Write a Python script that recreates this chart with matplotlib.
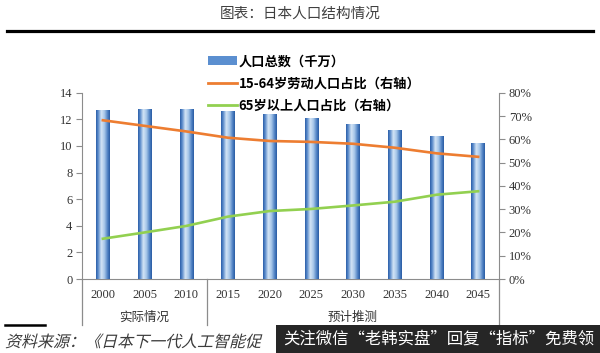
import matplotlib
matplotlib.use('Agg')
import matplotlib.pyplot as plt
import numpy as np
from matplotlib.lines import Line2D
from matplotlib.patches import Patch, Rectangle, PathPatch
from matplotlib.textpath import TextPath
from matplotlib.font_manager import FontProperties
from matplotlib.transforms import Affine2D, blended_transform_factory
from matplotlib.colors import LinearSegmentedColormap

# ---- data ----
years = ['2000', '2005', '2010', '2015', '2020', '2025', '2030', '2035', '2040', '2045']
population = [12.69, 12.78, 12.81, 12.66, 12.41, 12.07, 11.66, 11.21, 10.73, 10.22]
working_share = [68.2, 65.8, 63.4, 60.7, 59.3, 58.9, 58.1, 56.4, 54.0, 52.5]
elderly_share = [17.3, 20.0, 22.8, 26.8, 29.2, 30.1, 31.6, 33.2, 36.2, 37.7]
group_labels = ['实际情况', '预计推测']
group_first = [0, 3]
group_last = [2, 9]
left_ticks = [0, 2, 4, 6, 8, 10, 12, 14]
right_ticks = [0, 10, 20, 30, 40, 50, 60, 70, 80]
legend_labels = ['人口总数（千万）', '15-64岁劳动人口占比（右轴）', '65岁以上人口占比（右轴）']
title = '图表：日本人口结构情况'
source = '资料来源：《日本下一代人工智能促'
watermark = '关注微信“老韩实盘”回复“指标”免费领'

CJK = ['Noto Sans CJK SC', 'DejaVu Sans']
SERIF = ['Liberation Serif', 'DejaVu Serif']
plt.rcParams['font.family'] = CJK

W, H = 600, 353
fig = plt.figure(figsize=(W / 100, H / 100), dpi=100)
fig.patch.set_facecolor('white')

x0, x1 = 82, 499
y0, y1 = 279, 92.8
ax = fig.add_axes([x0 / W, 1 - y0 / H, (x1 - x0) / W, (y0 - y1) / H])
ax2 = ax.twinx()

x = np.arange(len(years))
bar_w = 0.32
bars = ax.bar(x, population, width=bar_w, color='#4F81BD', zorder=2)

grad_cmap = LinearSegmentedColormap.from_list('cyl', [
    (0.0, '#2C5FA8'), (0.15, '#5A8BCB'), (0.38, '#D3E4F5'),
    (0.6, '#A9C8EA'), (0.85, '#4C7FC2'), (1.0, '#2A5CA4')])
grad = np.linspace(0, 1, 64).reshape(1, -1)
for r in bars:
    im = ax.imshow(grad, cmap=grad_cmap, aspect='auto', zorder=3,
                   extent=[r.get_x(), r.get_x() + r.get_width(), 0, r.get_height()])
    im.set_clip_path(r)

ax.set_xlim(-0.5, len(years) - 0.5)
ax.set_ylim(0, 14)
ax2.set_ylim(0, 80)

ax2.plot(x, working_share, color='#ED7D31', lw=1.9, zorder=4)
ax2.plot(x, elderly_share, color='#92D050', lw=1.9, zorder=4)

axis_gray = '#8C8C8C'
for a in (ax, ax2):
    a.spines['top'].set_visible(False)
ax.spines['right'].set_visible(False)
ax2.spines['left'].set_visible(False)
ax2.spines['bottom'].set_visible(False)
ax.spines['left'].set_color(axis_gray)
ax.spines['bottom'].set_color(axis_gray)
ax2.spines['right'].set_color(axis_gray)

ax.set_yticks(left_ticks)
ax.set_yticklabels([str(v) for v in left_ticks], family=SERIF, fontsize=9, color='#333333')
ax.tick_params(axis='y', length=4, color=axis_gray, pad=3)
ax2.set_yticks(right_ticks)
ax2.set_yticklabels([f'{v}%' for v in right_ticks], family=SERIF, fontsize=9, color='#333333')
ax2.tick_params(axis='y', length=4, color=axis_gray, pad=3)

ax.set_xticks(x)
ax.set_xticklabels(years, family=SERIF, fontsize=9, color='#333333')
ax.tick_params(axis='x', length=0, pad=7.5)

# multi-level category axis
ext = -(325 - y0) / (y0 - y1)
btrans = blended_transform_factory(ax.transData, ax.transAxes)
for xs in [-0.5] + [g + 0.5 for g in group_last]:
    ax.add_line(Line2D([xs, xs], [0, ext], transform=btrans, color=axis_gray,
                       lw=0.9, clip_on=False))
gy = -(317 - y0) / (y0 - y1)
for lab, a, b in zip(group_labels, group_first, group_last):
    ax.text((a + b) / 2, gy, lab, transform=btrans, ha='center', va='center',
            fontsize=9, color='#333333')

# legend
handles = [Patch(facecolor='#5B8FD0', edgecolor='none'),
           Line2D([], [], color='#ED7D31', lw=2),
           Line2D([], [], color='#92D050', lw=2)]
fig.legend(handles, legend_labels, loc='upper left', bbox_to_anchor=(203 / W, 1 - 49 / H),
           frameon=False, handlelength=2.2, handletextpad=0.1,
           labelspacing=0.62, borderaxespad=0,
           prop={'family': CJK, 'size': 9.5, 'weight': 'bold'})

# title and rule
fig.text(0.5, 1 - 14 / H, title, ha='center', va='center', fontsize=10.5, color='#404040')
fig.add_artist(Line2D([7 / W, 593 / W], [1 - 31 / H] * 2, color='black', lw=2.3))

# footer
fig.add_artist(Line2D([5 / W, 45 / W], [1 - 325 / H] * 2, color='black', lw=1.8))
fp = FontProperties(family='Noto Sans CJK SC', weight='light')
tp = TextPath((0, 0), source, size=16.0, prop=fp)
tr = Affine2D().skew_deg(14, 0).translate(5, H - 347).scale(1 / W, 1 / H) + fig.transFigure
fig.add_artist(PathPatch(tp, transform=tr, facecolor='#3C3C3C', edgecolor='none', lw=0))

fig.add_artist(Rectangle((276 / W, 0), (W - 276) / W, (H - 325) / H, transform=fig.transFigure,
                         facecolor='#262626', edgecolor='none', zorder=10))
fig.text(283 / W, 1 - 339 / H, watermark, ha='left', va='center', fontsize=11.8,
         color='white', zorder=11)

fig.savefig('out.png', dpi=100)
